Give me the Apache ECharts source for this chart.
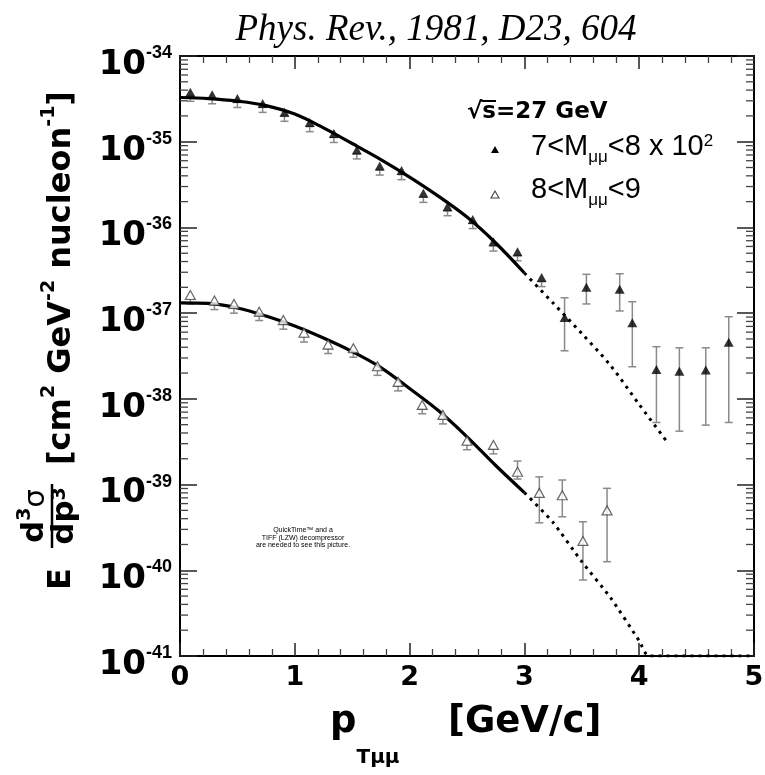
<!DOCTYPE html>
<html><head><meta charset="utf-8">
<script src="https://cdn.jsdelivr.net/npm/echarts@6/dist/echarts.min.js"></script>
<style>html,body{margin:0;padding:0;background:#fff}#c{width:765px;height:775px}</style>
</head><body><div id="c"></div>
<script>
// ---------------- data ----------------
const xTickLabels = ['0', '1', '2', '3', '4', '5'];
const yTickExponents = ['-41', '-40', '-39', '-38', '-37', '-36', '-35', '-34'];

// 7 < M < 8 (x 10^2), filled triangles
const s1X  = [0.09, 0.28, 0.50, 0.72, 0.91, 1.13, 1.34, 1.54, 1.74, 1.93, 2.12, 2.33, 2.55, 2.73, 2.94, 3.15, 3.35, 3.54, 3.83, 3.94, 4.15, 4.35, 4.58, 4.78];
const s1Y  = [3.77e-35, 3.53e-35, 3.20e-35, 2.80e-35, 2.20e-35, 1.67e-35, 1.25e-35, 8.0e-36, 5.2e-36, 4.6e-36, 2.5e-36, 1.74e-36, 1.24e-36, 6.8e-37, 5.2e-37, 2.6e-37, 8.9e-38, 2.0e-37, 1.9e-37, 7.7e-38, 2.2e-38, 2.1e-38, 2.17e-38, 4.56e-38];
const s1Hi = [3.39e-35, 3.17e-35, 2.87e-35, 2.51e-35, 1.98e-35, 1.50e-35, 1.12e-35, 7.2e-36, 4.67e-36, 4.13e-36, 2.25e-36, 1.56e-36, 1.11e-36, 6.1e-37, 4.67e-37, 2.33e-37, 1.51e-37, 2.84e-37, 2.88e-37, 1.36e-37, 4.06e-38, 3.94e-38, 3.94e-38, 9.08e-38];
const s1Lo = [2.96e-35, 2.77e-35, 2.51e-35, 2.20e-35, 1.73e-35, 1.31e-35, 9.8e-36, 6.3e-36, 4.08e-36, 3.61e-36, 1.96e-36, 1.37e-36, 9.7e-37, 5.3e-37, 4.08e-37, 2.04e-37, 3.64e-38, 1.28e-37, 1.06e-37, 2.37e-38, 5.3e-39, 4.2e-39, 4.94e-39, 5.3e-39];

// 8 < M < 9, open triangles
const s2X  = [0.09, 0.30, 0.47, 0.69, 0.90, 1.08, 1.29, 1.51, 1.72, 1.90, 2.11, 2.29, 2.50, 2.73, 2.94, 3.13, 3.33, 3.51, 3.72];
const s2Y  = [1.63e-37, 1.40e-37, 1.28e-37, 1.04e-37, 8.3e-38, 5.9e-38, 4.3e-38, 3.9e-38, 2.4e-38, 1.58e-38, 8.5e-39, 6.5e-39, 3.25e-39, 2.9e-39, 1.41e-39, 8.0e-40, 7.5e-40, 2.2e-40, 5.0e-40];
const s2Hi = [1.46e-37, 1.26e-37, 1.15e-37, 9.3e-38, 7.5e-38, 5.3e-38, 3.86e-38, 3.5e-38, 2.16e-38, 1.42e-38, 7.6e-39, 5.8e-39, 2.92e-39, 2.6e-39, 1.88e-39, 1.23e-39, 1.13e-39, 3.68e-40, 9.04e-40];
const s2Lo = [1.28e-37, 1.10e-37, 1.00e-37, 8.2e-38, 6.5e-38, 4.6e-38, 3.38e-38, 3.06e-38, 1.88e-38, 1.24e-38, 6.7e-39, 5.1e-39, 2.55e-39, 2.28e-39, 1.16e-39, 3.58e-40, 4.21e-40, 7.7e-41, 1.26e-40];

// fitted curves (solid part and dotted extrapolation)
const fit1X    = [0, 0.25, 0.5, 0.75, 1.0, 1.25, 1.5, 1.75, 2.0, 2.25, 2.5, 2.75, 3.0];
const fit1Y    = [3.28e-35, 3.19e-35, 2.98e-35, 2.64e-35, 2.10e-35, 1.45e-35, 9.53e-36, 6.20e-36, 3.87e-36, 2.32e-36, 1.32e-36, 6.58e-37, 2.94e-37];
const fit1DotX = [3.0, 3.25, 3.5, 3.75, 4.0, 4.25];
const fit1DotY = [2.94e-37, 1.31e-37, 5.78e-38, 2.45e-38, 8.6e-39, 3.05e-39];
const fit2X    = [0, 0.25, 0.5, 0.75, 1.0, 1.25, 1.5, 1.75, 2.0, 2.25, 2.5, 2.75, 3.0];
const fit2Y    = [1.32e-37, 1.30e-37, 1.15e-37, 9.25e-38, 7.07e-38, 5.12e-38, 3.56e-38, 2.32e-38, 1.32e-38, 7.30e-39, 3.61e-39, 1.67e-39, 8.06e-40];
const fit2DotX = [3.0, 3.25, 3.5, 3.75, 4.0, 4.08, 4.25, 4.5, 4.75, 5.0];
const fit2DotY = [8.06e-40, 3.61e-40, 1.26e-40, 4.79e-41, 1.50e-41, 1e-41, 1e-41, 1e-41, 1e-41, 1e-41];

// log minor tick multipliers
const minorMult = [2, 3, 4, 5, 6, 7, 8, 9];

// ---------------- helpers ----------------
const DV = "'DejaVu Sans'", LS = "'Liberation Sans'", SERIF = "'Liberation Serif'";
const lg = Math.log10;
const mctx = document.createElement('canvas').getContext('2d');
function fontStr(p) { return (p.it ? 'italic ' : '') + (p.w || 'normal') + ' ' + p.fs + 'px ' + (p.f || DV); }
function layout(x0, base, parts) {
  let x = x0; const elems = [], pos = [];
  for (const p of parts) {
    const font = fontStr(p);
    mctx.font = font;
    const w = mctx.measureText(p.t).width;
    elems.push({ type: 'text', x: x, y: base + (p.dy || 0) - 0.345 * p.fs, z: 100,
      style: { text: p.t, font: font, fill: p.c || '#000', textAlign: 'left', textVerticalAlign: 'middle', verticalAlign: 'middle' } });
    pos.push([x, w]);
    x += w + (p.gap || 0);
  }
  return { elems, pos, width: x - x0 };
}
function centered(cx, base, parts) {
  const t = layout(0, base, parts);
  return layout(cx - t.width / 2, base, parts);
}

// ---------------- y-axis title (rotated) ----------------
const yt = [];
yt.push(...layout(0, 0, [{ t: 'E', fs: 32, w: 'bold' }]).elems);
const num = centered(74, -27, [{ t: 'd', fs: 31, w: 'bold' }, { t: '3', fs: 19, w: 'bold', dy: -14 }, { t: 'σ', fs: 29 }]);
const den = centered(74, 3, [{ t: 'dp', fs: 31, w: 'bold' }, { t: '3', fs: 19, w: 'bold', dy: -9 }]);
yt.push(...num.elems, ...den.elems);
yt.push({ type: 'line', shape: { x1: 42, y1: -21, x2: 106, y2: -21 }, style: { stroke: '#000', lineWidth: 2.5 } });
yt.push(...layout(125, 0, [
  { t: '[cm', fs: 32, w: 'bold' }, { t: '2', fs: 19, w: 'bold', dy: -17 },
  { t: ' GeV', fs: 32, w: 'bold' }, { t: '-2', fs: 19, w: 'bold', dy: -17 },
  { t: ' nucleon', fs: 32, w: 'bold' }, { t: '-1', fs: 19, w: 'bold', dy: -17 },
  { t: ']', fs: 32, w: 'bold' }]).elems);

// ---------------- x-axis title ----------------
const xt = [
  ...layout(330, 735, [{ t: 'p', fs: 37, w: 'bold' }, { t: 'Tμμ', fs: 20, w: 'bold', dy: 30 }]).elems,
  ...layout(448, 735, [{ t: '[GeV/c]', fs: 37, w: 'bold' }]).elems
];

// ---------------- legend ----------------
const sq = layout(467, 120, [{ t: '√', fs: 23, w: 'bold' }, { t: 's', fs: 23, w: 'bold' }, { t: '=27 GeV', fs: 23, w: 'bold' }]);
const leg = [...sq.elems,
  { type: 'line', shape: { x1: sq.pos[0][0] + sq.pos[0][1] - 1, y1: 101, x2: sq.pos[1][0] + sq.pos[1][1], y2: 101 }, style: { stroke: '#000', lineWidth: 2 } },
  ...layout(531, 157, [{ t: '7<M', fs: 29, f: LS }, { t: 'μμ', fs: 17, f: LS, dy: 6.5 }, { t: '<8 x 10', fs: 29, f: LS }, { t: '2', fs: 17, f: LS, dy: -10 }]).elems,
  ...layout(531, 200, [{ t: '8<M', fs: 29, f: LS }, { t: 'μμ', fs: 17, f: LS, dy: 6.5 }, { t: '<9', fs: 29, f: LS }]).elems,
  { type: 'polygon', shape: { points: [[495, 146], [491, 153], [499, 153]] }, style: { fill: '#000' } },
  { type: 'polygon', shape: { points: [[495, 191], [491, 198], [499, 198]] }, style: { fill: '#fff', stroke: '#444', lineWidth: 1.1 } }
];

// ---------------- chart ----------------
const chart = echarts.init(document.getElementById('c'), null, { renderer: 'canvas' });

function errBar(lineColor) {
  return function (params, api) {
    const x = api.value(0), lo = api.value(1), hi = api.value(2);
    const a = api.coord([x, hi]), b = api.coord([x, lo]);
    const st = { stroke: lineColor, lineWidth: 1.5 };
    return { type: 'group', children: [
      { type: 'line', shape: { x1: a[0], y1: a[1], x2: b[0], y2: b[1] }, style: st },
      { type: 'line', shape: { x1: a[0] - 4, y1: a[1], x2: a[0] + 4, y2: a[1] }, style: st },
      { type: 'line', shape: { x1: b[0] - 4, y1: b[1], x2: b[0] + 4, y2: b[1] }, style: st }
    ] };
  };
}

// y axis is decades (log10 of the cross-section); every value is mapped through log10
const minorData = [];
for (let e = -41; e < -34; e++) for (const k of minorMult) minorData.push([0, lg(k * Math.pow(10, e))]);

const xAxisBase = {
  type: 'value', min: 0, max: 5, interval: 1,
  axisLine: { show: true, onZero: false, lineStyle: { color: '#000', width: 2 } },
  axisTick: { show: true, inside: true, length: 13, lineStyle: { color: '#222', width: 1.5 } },
  minorTick: { show: true, splitNumber: 5, length: 7, lineStyle: { color: '#444', width: 1.3 } },
  splitLine: { show: false }, minorSplitLine: { show: false }
};
const yAxisBase = {
  type: 'value', min: -41, max: -34, interval: 1,
  axisLine: { show: true, onZero: false, lineStyle: { color: '#000', width: 2 } },
  axisTick: { show: true, inside: true, length: 17, lineStyle: { color: '#222', width: 1.5 } },
  minorTick: { show: false }, splitLine: { show: false }
};

const option = {
  animation: false,
  backgroundColor: '#fff',
  grid: { left: 180, top: 56, right: 11, bottom: 119, containLabel: false, outerBoundsMode: 'none' },
  xAxis: [
    Object.assign({}, xAxisBase, { position: 'bottom',
      axisLabel: { show: true, margin: 8, fontSize: 27, fontWeight: 'bold', fontFamily: DV, color: '#000',
        formatter: v => xTickLabels[Math.round(v)] } }),
    Object.assign({}, xAxisBase, { position: 'top', axisLabel: { show: false } })
  ],
  yAxis: [
    Object.assign({}, yAxisBase, { position: 'left',
      axisLabel: { show: true, margin: 8, color: '#000', showMinLabel: true, showMaxLabel: true, padding: [14, 0, 0, 0],
        formatter: v => '{h|\u200b}{b|10}{s|' + yTickExponents[Math.round(v) + 41] + '}',
        rich: {
          h: { lineHeight: 38, fontSize: 10 },
          b: { fontSize: 34, fontWeight: 'bold', fontFamily: DV, lineHeight: 20, verticalAlign: 'bottom', color: '#000' },
          s: { fontSize: 18, fontWeight: 'bold', fontFamily: LS, lineHeight: 24, verticalAlign: 'top', color: '#000' }
        } } }),
    Object.assign({}, yAxisBase, { position: 'right', axisLabel: { show: false } })
  ],
  series: [
    { type: 'custom', name: 'minor', renderItem: function (params, api) {
        const y = api.coord([0, api.value(1)])[1];
        const cs = params.coordSys;
        const st = { stroke: '#444', lineWidth: 1.3 };
        return { type: 'group', children: [
          { type: 'line', shape: { x1: cs.x, y1: y, x2: cs.x + 8, y2: y }, style: st },
          { type: 'line', shape: { x1: cs.x + cs.width - 8, y1: y, x2: cs.x + cs.width, y2: y }, style: st }
        ] };
      }, data: minorData, silent: true, z: 1 },
    { type: 'custom', name: 'err1', renderItem: errBar('#8a8a8a'), data: s1X.map((x, i) => [x, lg(s1Lo[i]), lg(s1Hi[i])]), z: 2 },
    { type: 'custom', name: 'err2', renderItem: errBar('#8a8a8a'), data: s2X.map((x, i) => [x, lg(s2Lo[i]), lg(s2Hi[i])]), z: 2 },
    { type: 'line', name: 'fit1', data: fit1X.map((x, i) => [x, lg(fit1Y[i])]), showSymbol: false, smooth: 0.35,
      lineStyle: { color: '#000', width: 3.2 }, z: 3 },
    { type: 'line', name: 'fit1dot', data: fit1DotX.map((x, i) => [x, lg(fit1DotY[i])]), showSymbol: false, smooth: 0.3,
      lineStyle: { color: '#000', width: 3, type: [3, 5] }, z: 3 },
    { type: 'line', name: 'fit2', data: fit2X.map((x, i) => [x, lg(fit2Y[i])]), showSymbol: false, smooth: 0.35,
      lineStyle: { color: '#000', width: 3.2 }, z: 3 },
    { type: 'line', name: 'fit2dot', data: fit2DotX.map((x, i) => [x, lg(fit2DotY[i])]), showSymbol: false, smooth: 0.2,
      lineStyle: { color: '#000', width: 3, type: [3, 5] }, z: 3 },
    { type: 'scatter', name: '7<M<8', data: s1X.map((x, i) => [x, lg(s1Y[i])]), symbol: 'triangle', symbolSize: [10, 9],
      itemStyle: { color: '#000' }, z: 4 },
    { type: 'scatter', name: '8<M<9', data: s2X.map((x, i) => [x, lg(s2Y[i])]), symbol: 'triangle', symbolSize: [10, 9],
      itemStyle: { color: '#fff', borderColor: '#444', borderWidth: 1.2 }, z: 4 }
  ],
  graphic: [
    { type: 'text', x: 436, y: 30, z: 100, style: { text: 'Phys. Rev., 1981, D23, 604', font: "italic 37px " + SERIF, fill: '#000',
      textAlign: 'center', textVerticalAlign: 'middle', verticalAlign: 'middle' } },
    { type: 'group', x: 73, y: 590, rotation: Math.PI / 2, children: yt },
    ...xt, ...leg,
    { type: 'text', x: 303, y: 538, z: 100, style: { text: 'QuickTime™ and a\nTIFF (LZW) decompressor\nare needed to see this picture.',
      font: "7px " + LS, lineHeight: 7.5, fill: '#000', textAlign: 'center', textVerticalAlign: 'middle', verticalAlign: 'middle' } }
  ]
};
try {
  chart.setOption(option);
} catch (err) {
  document.body.insertAdjacentHTML('beforeend', '<pre style="position:absolute;top:300px;left:200px;color:red">' + err + '</pre>');
}
</script>
</body></html>
